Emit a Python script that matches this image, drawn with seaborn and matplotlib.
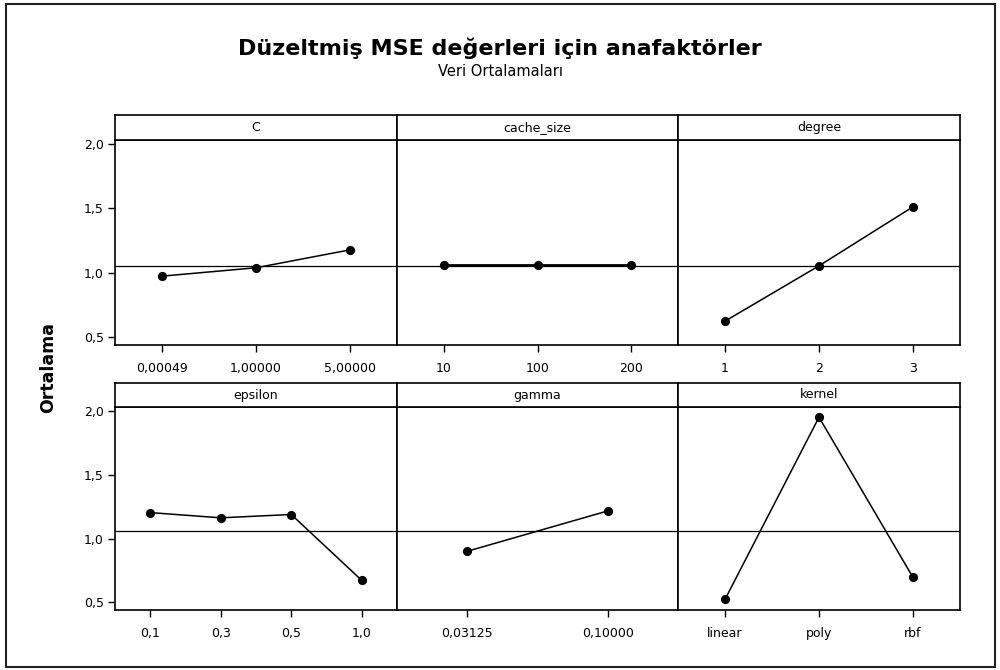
import numpy as np
import pandas as pd
import matplotlib.pyplot as plt
import seaborn as sns

sns.set_style("ticks")
plt.rcParams['font.family'] = ['DejaVu Sans']
plt.rcParams['text.color'] = 'black'
plt.rcParams['xtick.color'] = 'black'
plt.rcParams['ytick.color'] = 'black'

# Faktörler ve seviyeleri (grafikten okunan ortalamalar)
factors = ['C', 'cache_size', 'degree', 'epsilon', 'gamma', 'kernel']
C_levels = ['0,00049', '1,00000', '5,00000']
C_means = [0.974, 1.039, 1.178]
cache_levels = ['10', '100', '200']
cache_means = [1.064, 1.064, 1.064]
degree_levels = ['1', '2', '3']
degree_means = [0.625, 1.054, 1.512]
epsilon_levels = ['0,1', '0,3', '0,5', '1,0']
epsilon_means = [1.203, 1.162, 1.188, 0.672]
gamma_levels = ['0,03125', '0,10000']
gamma_means = [0.900, 1.216]
kernel_levels = ['linear', 'poly', 'rbf']
kernel_means = [0.523, 1.950, 0.695]
grand_mean = 1.055

yticks = [0.5, 1.0, 1.5, 2.0]
ytick_labels = ['0,5', '1,0', '1,5', '2,0']

levels = [C_levels, cache_levels, degree_levels, epsilon_levels, gamma_levels, kernel_levels]
means = [C_means, cache_means, degree_means, epsilon_means, gamma_means, kernel_means]

# Tablo oluştur
rows = []
for f, lv, mv in zip(factors, levels, means):
    for l, m in zip(lv, mv):
        rows.append({'factor': f, 'level': l, 'mean': m})
df = pd.DataFrame(rows)

W, H = 1000, 670
fig = plt.figure(figsize=(W / 100, H / 100), dpi=100)


def frac(x0, y0, x1, y1):
    return [x0 / W, 1 - y1 / H, (x1 - x0) / W, (y1 - y0) / H]


col_x = [(115, 397), (397, 678), (678, 960)]
plot_y = [(140, 345), (407, 610)]
strip_y = [(115, 140), (383, 407)]

for i, f in enumerate(factors):
    r, c = i // 3, i % 3
    x0, x1 = col_x[c]
    ax = fig.add_axes(frac(x0, plot_y[r][0], x1, plot_y[r][1]))
    sub = df[df['factor'] == f]
    lw = 2.0 if f == 'cache_size' else 1.1
    sns.pointplot(data=sub, x='level', y='mean', order=levels[i], color='black',
                  errorbar=None, ax=ax, markersize=5.5, markeredgewidth=1.1, linewidth=lw)
    ax.axhline(grand_mean, color='black', lw=0.9, zorder=0)
    ax.set_xlim(-0.5, len(levels[i]) - 0.5)
    ax.set_ylim(0.44, 2.03)
    ax.set_xlabel('')
    ax.set_ylabel('')
    ax.set_yticks(yticks)
    if c == 0:
        ax.set_yticklabels(ytick_labels)
        ax.tick_params(axis='y', direction='out', length=5, width=1, labelsize=9, pad=3)
    else:
        ax.tick_params(axis='y', left=False, labelleft=False)
    ax.tick_params(axis='x', direction='out', length=5, width=1, labelsize=9, pad=7)
    for s in ax.spines.values():
        s.set_visible(True)
        s.set_linewidth(1.2)
        s.set_color('black')

    # başlık şeridi
    sax = fig.add_axes(frac(x0, strip_y[r][0], x1, strip_y[r][1]))
    sax.set_xticks([])
    sax.set_yticks([])
    sax.text(0.5, 0.5, f, ha='center', va='center', fontsize=9, transform=sax.transAxes)
    for s in sax.spines.values():
        s.set_visible(True)
        s.set_linewidth(1.2)
        s.set_color('black')

fig.text(0.5, 1 - 48 / H, 'Düzeltmiş MSE değerleri için anafaktörler', ha='center', va='center',
         fontsize=16, fontweight='bold')
fig.text(0.5, 1 - 72 / H, 'Veri Ortalamaları', ha='center', va='center', fontsize=10.5)
fig.text(48 / W, 1 - 367 / H, 'Ortalama', rotation=90, ha='center', va='center',
         fontsize=12.5, fontweight='bold')

# dış çerçeve
fig.patches.append(plt.Rectangle((6 / W, 1 - 667 / H), (995 - 6) / W, (667 - 4) / H,
                                 transform=fig.transFigure, fill=False, lw=1.5, ec='#222222'))

fig.savefig('out.png', dpi=100)
